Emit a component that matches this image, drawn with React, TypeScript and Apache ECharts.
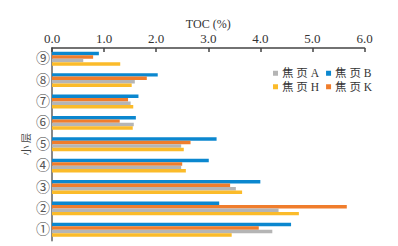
import React, { useEffect, useRef } from "react";
import * as echarts from "echarts";

const categories = ["①", "②", "③", "④", "⑤", "⑥", "⑦", "⑧", "⑨"];
const seriesNames = ["焦 页 A", "焦 页 B", "焦 页 H", "焦 页 K"];
const valuesA = [4.23, 4.35, 3.53, 2.48, 2.48, 1.57, 1.51, 1.59, 0.6];
const valuesB = [4.59, 3.21, 4.0, 3.01, 3.16, 1.61, 1.66, 2.03, 0.9];
const valuesH = [3.45, 4.74, 3.65, 2.57, 2.53, 1.55, 1.56, 1.53, 1.31];
const valuesK = [3.97, 5.66, 3.42, 2.5, 2.66, 1.3, 1.46, 1.82, 0.79];
const colorList = ["#b5b5b5", "#0b87cf", "#fbbb2a", "#f07d2c"];
const serif = "'Liberation Serif', 'Noto Sans CJK SC', serif";

export default function App() {
  const ref = useRef<HTMLDivElement>(null);
  useEffect(() => {
    if (!ref.current) return;
    const chart = echarts.init(ref.current, undefined, { renderer: "svg" });
    const mk = (idx: number, data: number[]) => ({
      name: seriesNames[idx],
      type: "bar",
      data,
      barGap: "0%",
      barCategoryGap: "35%",
      itemStyle: { color: colorList[idx] },
    });
    const legendCommon = {
      orient: "horizontal",
      icon: "rect",
      itemWidth: 5,
      itemHeight: 5,
      itemGap: 7,
      textStyle: { fontFamily: serif, fontSize: 11.5, lineHeight: 11, color: "#333", padding: [0, 0, 0, -1] },
      padding: 0,
    };
    chart.setOption({
      animation: false,
      grid: { left: 52, right: 33.5, top: 48, bottom: 5.5 },
      legend: [
        { ...legendCommon, data: [seriesNames[0], seriesNames[1]], left: 273, top: 67.5 },
        { ...legendCommon, data: [seriesNames[2], seriesNames[3]], left: 273, top: 81 },
      ],
      xAxis: {
        type: "value",
        position: "top",
        min: 0,
        max: 6,
        interval: 1,
        name: "TOC (%)",
        nameLocation: "middle",
        nameGap: 18,
        nameMoveOverlap: false,
        nameTextStyle: { fontFamily: serif, fontSize: 12, color: "#333" },
        axisLine: { show: true, lineStyle: { color: "#444", width: 1.5 } },
        axisTick: { show: true, inside: true, length: 4, lineStyle: { color: "#444", width: 1.5 } },
        axisLabel: {
          formatter: (v: number) => v.toFixed(1),
          fontFamily: serif,
          fontSize: 13,
          color: "#333",
          margin: 3,
        },
        splitLine: { show: false },
      },
      yAxis: {
        type: "category",
        data: categories,
        name: "小 层",
        nameLocation: "middle",
        nameGap: 21,
        nameMoveOverlap: false,
        nameRotate: 90,
        nameTextStyle: { fontFamily: serif, fontSize: 10, color: "#444" },
        axisLine: { show: true, lineStyle: { color: "#888", width: 2 } },
        axisTick: { show: false },
        axisLabel: { fontFamily: serif, fontSize: 14, color: "#555", margin: 2 },
      },
      series: [mk(1, valuesB), mk(3, valuesK), mk(0, valuesA), mk(2, valuesH)],
    });
    return () => chart.dispose();
  }, []);
  return <div ref={ref} style={{ width: 398, height: 246, position: "absolute", left: 0, top: 0 }} />;
}
